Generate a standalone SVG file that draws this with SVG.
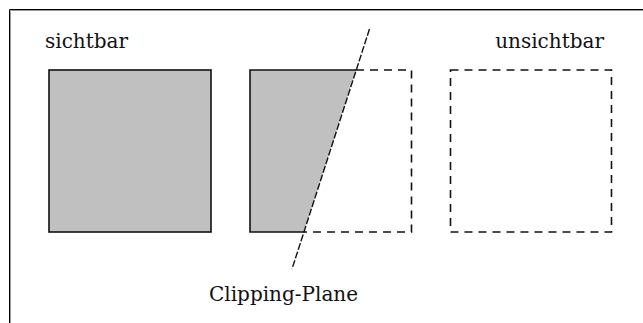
<svg xmlns="http://www.w3.org/2000/svg" width="643" height="323" viewBox="0 0 643 323">
<style>
text{font-family:"DejaVu Serif","Liberation Serif",serif;font-size:20px;fill:#111}
.solid{fill:none;stroke:#111;stroke-width:1.6}
.dash{fill:none;stroke:#111;stroke-width:1.6;stroke-dasharray:8 6}
.gray{fill:#c0c0c0;stroke:none}
</style>
<rect width="643" height="323" fill="#fff"/>
<g id="frame">
<path d="M9.5 323V9.5H643" fill="none" stroke="#000" stroke-width="1"/>
<path d="M10.5 323V10.5H643" fill="none" stroke="#9a9a9a" stroke-width="1"/>
</g>
<g id="label-sichtbar"><text x="45" y="48">sichtbar</text></g>
<g id="label-unsichtbar"><text x="604" y="48" text-anchor="end">unsichtbar</text></g>
<g id="visible-square">
<rect class="gray" x="49" y="70" width="162" height="162"/>
<rect class="solid" x="49" y="70" width="162" height="162"/>
</g>
<g id="clipped-square">
<polygon class="gray" points="250,70 356,70 304,232 250,232"/>
<path class="solid" d="M356 70H250V232H304"/>
<path class="dash" d="M356 70H411.5V232H304"/>
</g>
<g id="invisible-square">
<rect class="dash" x="450.5" y="70" width="161" height="162"/>
</g>
<g id="connectors">
<line x1="369.5" y1="29" x2="292" y2="269" stroke="#111" stroke-width="1.4" stroke-dasharray="7 2"/>
</g>
<g id="label-clipping"><text x="209" y="301">Clipping-Plane</text></g>
</svg>
